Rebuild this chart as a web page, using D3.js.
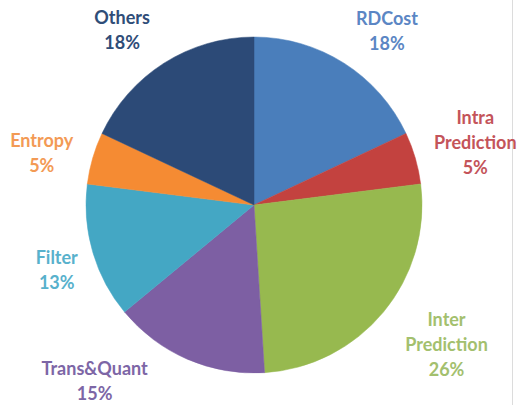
<!DOCTYPE html>
<html>
<head>
<meta charset="utf-8">
<title>Time share pie</title>
<script src="https://cdn.jsdelivr.net/npm/d3@7"></script>
<style>
  body { margin: 0; background: #fff; }
  text { font-family: Lato, "Open Sans", sans-serif; font-weight: bold; }
</style>
</head>
<body>
<div id="chart"></div>
<script>
var width = 520, height = 405;

// data, clockwise from 12 o'clock
var labels  = ["RDCost", "Intra Prediction", "Inter Prediction", "Trans&Quant", "Filter", "Entropy", "Others"];
var values  = [18, 5, 26, 15, 13, 5, 18];
var fills   = ["#4a7ebb", "#c3423f", "#97b94f", "#7d5fa3", "#44a7c4", "#f58b33", "#2c4a77"];
var inks    = ["#5b86c4", "#c4545a", "#a3c06e", "#7d66a6", "#58b1cc", "#f39a55", "#2f4d78"];

// label nudges from the arc centroid (layout only)
var nudge = [[15, 12], [10, -1], [23, 0], [-72, -25], [14, 4], [-1, 10], [-14, 11]];

var cx = 254, cy = 205, radius = 168, labelR = 220;

var svg = d3.select("#chart").append("svg")
  .attr("width", width)
  .attr("height", height);

// faint frame edge on the right
svg.append("line")
  .attr("x1", 512.5).attr("x2", 512.5)
  .attr("y1", 0).attr("y2", height)
  .style("stroke", "#dcdcdc")
  .style("stroke-width", 1);

var pie = d3.pie().sort(null).value(function(d) { return d; });
var arcs = pie(values);

var arc = d3.arc().innerRadius(0).outerRadius(radius);
var labelArc = d3.arc().innerRadius(labelR).outerRadius(labelR);

var g = svg.append("g").attr("transform", "translate(" + cx + "," + cy + ")");

g.selectAll("path.slice").data(arcs).enter().append("path")
  .attr("class", "slice")
  .attr("d", arc)
  .style("fill", function(d, i) { return fills[i]; })
  .style("stroke", function(d, i) { return fills[i]; })
  .style("stroke-width", 0.5);

// labels: name (may wrap to two lines) + percent
var lineH = 25;
g.selectAll("text.lbl").data(arcs).enter().append("text")
  .attr("class", "lbl")
  .attr("text-anchor", "middle")
  .style("font-size", "18px")
  .style("fill", function(d, i) { return inks[i]; })
  .each(function(d, i) {
    var c = labelArc.centroid(d);
    var x = c[0] + nudge[i][0], y = c[1] + nudge[i][1];
    var lines = labels[i].split(" ");
    lines.push(values[i] + "%");
    var y0 = y - (lines.length - 1) * lineH / 2 + 6;
    var t = d3.select(this);
    lines.forEach(function(s, k) {
      t.append("tspan")
        .attr("x", x)
        .attr("y", y0 + k * lineH)
        .text(s);
    });
  });
</script>
</body>
</html>
